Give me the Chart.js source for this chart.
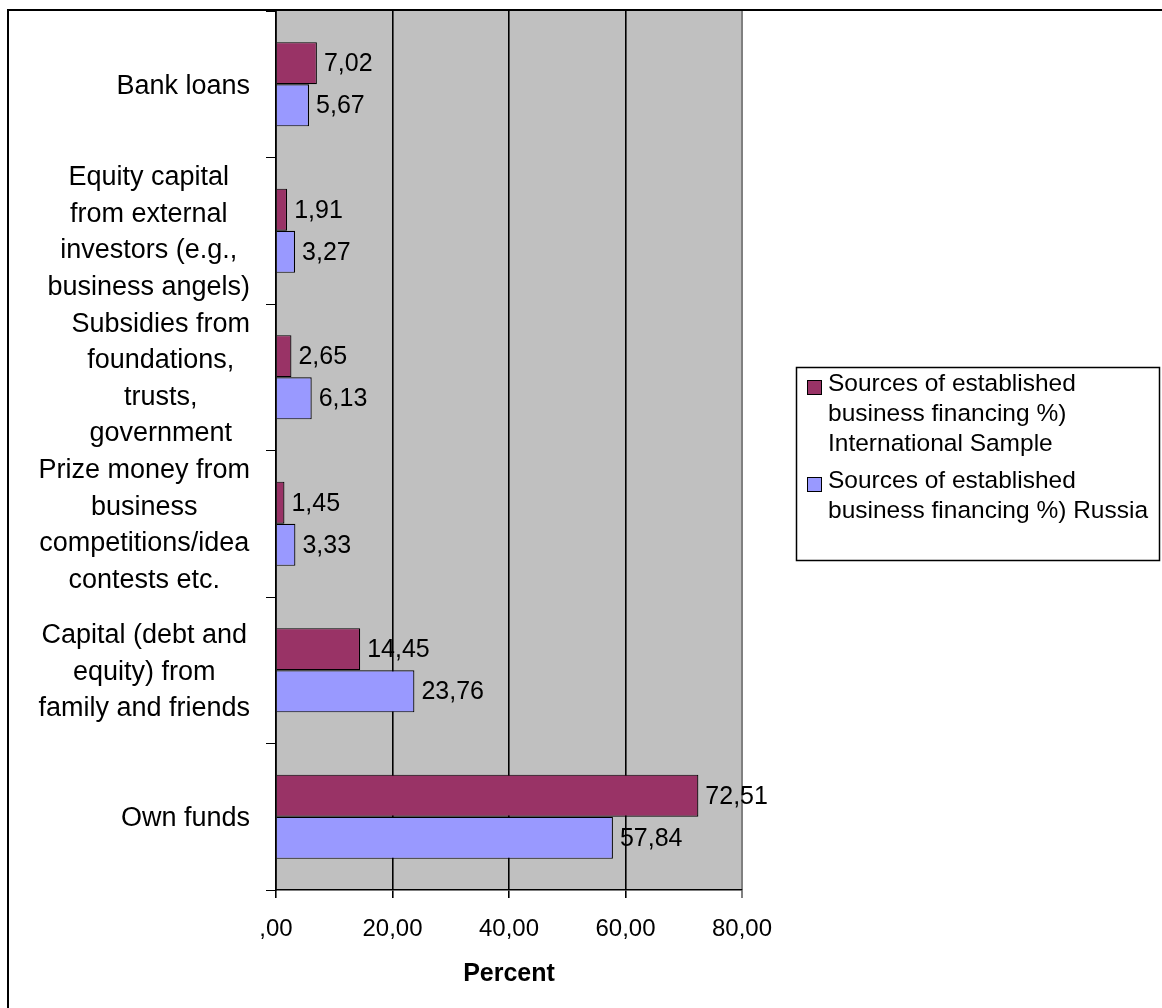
<!DOCTYPE html>
<html>
<head>
<meta charset="utf-8">
<script src="https://cdn.jsdelivr.net/npm/chart.js@4.4.1/dist/chart.umd.min.js"></script>
<style>
  html, body { margin: 0; padding: 0; background: #fff; }
  #wrap { width: 1162px; height: 1008px; }
</style>
</head>
<body>
<div id="wrap"><canvas id="chartContainer" width="1162" height="1008"></canvas></div>
<script>
// Categories (top to bottom), each split into its display lines
const categories = [
  ["Bank loans"],
  ["Equity capital", "from external", "investors (e.g.,", "business angels)"],
  ["Subsidies from", "foundations,", "trusts,", "government"],
  ["Prize money from", "business", "competitions/idea", "contests etc."],
  ["Capital (debt and", "equity) from", "family and friends"],
  ["Own funds"],
];

// Series values (percent)
const internationalValues = [7.02, 1.91, 2.65, 1.45, 14.45, 72.51];
const russiaValues = [5.67, 3.27, 6.13, 3.33, 23.76, 57.84];

// Series names as shown in the legend
const internationalName = ["Sources of established", "business financing %)", "International Sample"];
const russiaName = ["Sources of established", "business financing %) Russia"];

// X axis tick labels
const tickLabels = [",00", "20,00", "40,00", "60,00", "80,00"];

const FONT = "'Liberation Sans', Arial, sans-serif";

// white page, frame and grey plot area
const backgroundPlugin = {
  id: "background",
  beforeDraw(chart) {
    const { ctx, chartArea } = chart;
    ctx.save();
    ctx.fillStyle = "#fff";
    ctx.fillRect(0, 0, chart.width, chart.height);
    ctx.fillStyle = "#C0C0C0";
    ctx.fillRect(chartArea.left, chartArea.top, chartArea.right - chartArea.left, chartArea.bottom - chartArea.top);
    ctx.restore();
  },
  afterDraw(chart) {
    const ctx = chart.ctx;
    ctx.save();
    ctx.strokeStyle = "#000";
    ctx.lineWidth = 2;
    ctx.strokeRect(8, 10, 2000, 2000);
    ctx.restore();
  },
};

// category labels: block right aligned, lines centred inside the block
const categoryLabelPlugin = {
  id: "categoryLabels",
  afterDraw(chart) {
    const { ctx } = chart;
    const yScale = chart.scales.y;
    const lh = 36.5;
    ctx.save();
    ctx.font = "27px " + FONT;
    ctx.fillStyle = "#000";
    ctx.textAlign = "center";
    ctx.textBaseline = "middle";
    categories.forEach((lines, i) => {
      const y = yScale.getPixelForValue(i) + 2;
      const w = Math.max(...lines.map((l) => ctx.measureText(l).width));
      const cx = 250 - w / 2;
      lines.forEach((l, k) => {
        ctx.fillText(l, cx, y - ((lines.length - 1) * lh) / 2 + k * lh);
      });
    });
    ctx.restore();
  },
};

// value labels right of each bar
const valueLabelPlugin = {
  id: "valueLabels",
  afterDatasetsDraw(chart) {
    const { ctx } = chart;
    ctx.save();
    ctx.font = "25px " + FONT;
    ctx.fillStyle = "#000";
    ctx.textAlign = "left";
    ctx.textBaseline = "middle";
    chart.data.datasets.forEach((ds, di) => {
      const meta = chart.getDatasetMeta(di);
      meta.data.forEach((el, i) => {
        ctx.fillText(ds.data[i].toFixed(2).replace(".", ","), el.x + 7, el.y + 1);
      });
    });
    ctx.restore();
  },
};

// boxed legend on the right
const legendPlugin = {
  id: "boxLegend",
  afterDraw(chart) {
    const { ctx } = chart;
    const items = [
      { lines: internationalName, color: chart.data.datasets[0].backgroundColor, top: 380 },
      { lines: russiaName, color: chart.data.datasets[1].backgroundColor, top: 477 },
    ];
    ctx.save();
    ctx.strokeStyle = "#000";
    ctx.lineWidth = 1.5;
    ctx.strokeRect(796.5, 367.5, 363, 193);
    ctx.font = "24.5px " + FONT;
    ctx.textBaseline = "middle";
    ctx.textAlign = "left";
    items.forEach((it) => {
      ctx.fillStyle = it.color;
      ctx.fillRect(807, it.top, 15, 15);
      ctx.lineWidth = 1;
      ctx.strokeRect(807.5, it.top + 0.5, 14, 14);
      ctx.fillStyle = "#000";
      it.lines.forEach((l, k) => ctx.fillText(l, 828, it.top + 4 + k * 30));
    });
    ctx.restore();
  },
};

const data = {
  labels: categories,
  datasets: [
    {
      label: internationalName.join(" "),
      data: internationalValues,
      backgroundColor: "#993366",
      borderColor: "#000",
      borderWidth: 1.2,
    },
    {
      label: russiaName.join(" "),
      data: russiaValues,
      backgroundColor: "#9999FF",
      borderColor: "#000",
      borderWidth: 1.2,
    },
  ],
};

const config = {
  type: "bar",
  data: data,
  options: {
    responsive: false,
    animation: false,
    indexAxis: "y",
    layout: { padding: { top: 11, right: 420, left: 0, bottom: 0 } },
    datasets: {
      bar: { categoryPercentage: 0.575, barPercentage: 1.0 },
    },
    scales: {
      x: {
        min: 0,
        max: 80,
        ticks: {
          stepSize: 20,
          padding: 17,
          color: "#000",
          font: { family: FONT, size: 24 },
          callback: (v, i) => tickLabels[i],
        },
        grid: {
          color: (c) => (c.tick && c.tick.value === 80 ? "#808080" : "#000"),
          lineWidth: (c) => (c.tick && c.tick.value === 80 ? 2 : 1.6),
          drawTicks: true,
          tickLength: 8,
        },
        border: { display: true, color: "#000", width: 1.6 },
        title: {
          display: true,
          text: "Percent",
          color: "#000",
          font: { family: FONT, size: 25, weight: "bold" },
          padding: { top: 0, bottom: 19 },
        },
        afterFit(s) { s.height = 118; },
      },
      y: {
        ticks: { display: false },
        grid: {
          drawOnChartArea: false,
          drawTicks: true,
          tickLength: 10,
          color: "#000",
          offset: true,
        },
        border: { display: true, color: "#000", width: 1.6 },
        afterFit(s) { s.width = 276; },
      },
    },
    plugins: {
      legend: { display: false },
      tooltip: { enabled: false },
    },
  },
  plugins: [backgroundPlugin, categoryLabelPlugin, valueLabelPlugin, legendPlugin],
};

const ctx = document.getElementById("chartContainer").getContext("2d");
const myChart = new Chart(ctx, config);
</script>
</body>
</html>
